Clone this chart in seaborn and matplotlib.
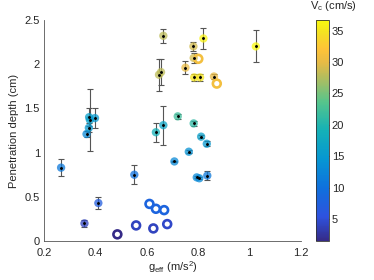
import numpy as np
import pandas as pd
import matplotlib
matplotlib.use('AGG')
from matplotlib import pyplot as plt
from matplotlib.colors import LinearSegmentedColormap, Normalize
import seaborn as sns

# filled points (with error bars)
g_eff = [0.266, 0.357, 0.411, 0.551, 0.365, 0.374, 0.375, 0.378, 0.398,
         0.635, 0.664, 0.720, 0.782, 0.811, 0.833, 0.763, 0.707, 0.794,
         0.804, 0.835, 0.664, 0.820, 0.781, 0.782, 0.647, 0.655, 0.750,
         0.784, 0.807, 0.861, 1.024]
depth = [0.83, 0.20, 0.43, 0.75, 1.21, 1.28, 1.40, 1.37, 1.39,
         1.23, 1.31, 1.41, 1.33, 1.18, 1.10, 1.01, 0.90, 0.72,
         0.71, 0.74, 2.32, 2.29, 2.20, 2.07, 1.88, 1.91, 1.96,
         1.85, 1.85, 1.86, 2.20]
depth_err = [0.10, 0.04, 0.07, 0.11, 0.03, 0.05, 0.10, 0.35, 0.11,
             0.11, 0.22, 0.03, 0.03, 0.02, 0.03, 0.02, 0.01, 0.01,
             0.01, 0.05, 0.08, 0.12, 0.05, 0.06, 0.18, 0.15, 0.07,
             0.04, 0.04, 0.03, 0.18]
vc = [11, 4, 7, 10, 13, 15, 16, 16, 15,
      19, 17, 22, 21, 16, 15, 14, 13, 13,
      13, 11, 28, 36, 29, 29, 28, 28, 30,
      35, 35, 30, 36.5]

# open rings (no error bars)
ring_g = [0.485, 0.558, 0.625, 0.679, 0.610, 0.635, 0.667, 0.800, 0.872]
ring_depth = [0.076, 0.177, 0.143, 0.192, 0.42, 0.365, 0.35, 2.06, 1.78]
ring_vc = [1.5, 4, 4, 4.5, 8, 8, 8, 31, 31]

vmin, vmax = 1.5, 36.7

# parula-like colormap
parula = LinearSegmentedColormap.from_list('parula', [
    (0.00, (0.2081, 0.1663, 0.5292)),
    (0.11, (0.1815, 0.3237, 0.8739)),
    (0.24, (0.0590, 0.4408, 0.8652)),
    (0.37, (0.0238, 0.5904, 0.8231)),
    (0.50, (0.0805, 0.6929, 0.7173)),
    (0.63, (0.3389, 0.7713, 0.5473)),
    (0.75, (0.7317, 0.7373, 0.3519)),
    (0.81, (0.9092, 0.7327, 0.2718)),
    (0.87, (0.9977, 0.7653, 0.2195)),
    (0.94, (0.9596, 0.8752, 0.1390)),
    (1.00, (0.9763, 0.9831, 0.0538))])
norm = Normalize(vmin, vmax)

df = pd.DataFrame({'g': g_eff, 'd': depth, 'e': depth_err, 'v': vc})

sns.set_style('white')
plt.rcParams['font.family'] = ['Liberation Sans', 'DejaVu Sans']
plt.rcParams['mathtext.fontset'] = 'custom'
plt.rcParams['mathtext.rm'] = 'Liberation Sans'
plt.rcParams['mathtext.it'] = 'Liberation Sans'
plt.rcParams['font.size'] = 8
txt = '#262626'

fig = plt.figure(figsize=(3.74, 2.8), dpi=100)
ax = fig.add_axes([0.118, 0.139, 0.687, 0.790])

ax.errorbar(df['g'], df['d'], yerr=df['e'], fmt='none', ecolor='#555555',
            elinewidth=0.8, capsize=2, capthick=0.8, zorder=1)
sns.scatterplot(data=df, x='g', y='d', hue='v', palette=parula, hue_norm=(vmin, vmax),
                s=36, alpha=0.75, linewidth=0, legend=False, ax=ax, zorder=2)
ax.scatter(df['g'], df['d'], s=1.2, c='k', zorder=3)
ax.scatter(ring_g, ring_depth, s=32, facecolors='none',
           edgecolors=parula(norm(np.array(ring_vc))), linewidths=1.9, zorder=2)

ax.set_xlim(0.2, 1.2)
ax.set_ylim(0, 2.5)
ax.set_xticks([0.2, 0.4, 0.6, 0.8, 1.0, 1.2])
ax.set_xticklabels(['0.2', '0.4', '0.6', '0.8', '1', '1.2'])
ax.set_yticks([0, 0.5, 1, 1.5, 2, 2.5])
ax.set_yticklabels(['0', '0.5', '1', '1.5', '2', '2.5'])
ax.tick_params(direction='in', length=2.5, width=0.6, color='#555555',
               labelsize=8, labelcolor=txt, pad=3)
ax.tick_params(axis='x', pad=5)
ax.set_xlabel(r'g$_\mathregular{eff}$ (m/s$^\mathregular{2}$)', fontsize=8, color=txt, labelpad=1)
ax.set_ylabel('Penetration depth (cm)', fontsize=8, color=txt, labelpad=4)
for s in ['top', 'right']:
    ax.spines[s].set_visible(False)
for s in ['left', 'bottom']:
    ax.spines[s].set_color('#555555')
    ax.spines[s].set_linewidth(0.6)

cax = fig.add_axes([0.845, 0.139, 0.035, 0.790])
sm = plt.cm.ScalarMappable(norm=norm, cmap=parula)
cb = fig.colorbar(sm, cax=cax)
cb.set_ticks([5, 10, 15, 20, 25, 30, 35])
cb.outline.set_edgecolor('#333333')
cb.outline.set_linewidth(0.6)
cax.tick_params(direction='in', length=2, width=0.5, color='#555555',
                labelsize=8, labelcolor=txt, pad=2)
cax.text(1.3, 1.03, r'V$_\mathregular{c}$ (cm/s)', transform=cax.transAxes,
         ha='center', va='bottom', fontsize=8, color=txt)

plt.savefig('out.png', dpi=100)
